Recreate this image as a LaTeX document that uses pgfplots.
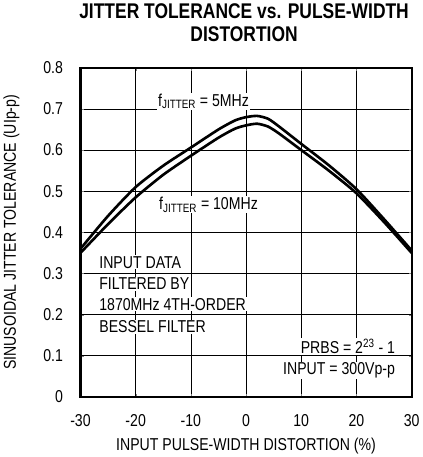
\documentclass[border=0pt]{standalone}
\usepackage{pgfplots}
\pgfplotsset{compat=1.18}
\usepackage{fontspec}
\setmainfont{Liberation Sans}[FakeStretch=0.82]

% jitter tolerance (UIp-p) vs. input pulse-width distortion (%)
\pgfplotstableread{
x     y
-30   0.360
-25   0.440
-20   0.510
-15   0.562
-10   0.606
-5    0.650
-2    0.672
0     0.680
2     0.683
4     0.676
6     0.657
10    0.615
15    0.563
20    0.505
25    0.432
30    0.356
}\fivemhz
\pgfplotstableread{
x     y
-30   0.350
-25   0.420
-20   0.485
-15   0.540
-10   0.586
-5    0.630
-2    0.652
0     0.660
2     0.664
4     0.657
6     0.640
10    0.600
15    0.550
20    0.495
25    0.425
30    0.350
}\tenmhz

\begin{document}
\begin{tikzpicture}
\begin{axis}[
    width=326bp, height=324bp, scale only axis,
    xmin=-30, xmax=30, ymin=0, ymax=0.8,
    xtick={-30,-20,-10,0,10,20,30},
    xticklabels={-30,-20,-10,0,10,20,30},
    ytick={0,0.1,0.2,0.3,0.4,0.5,0.6,0.7,0.8},
    yticklabels={0,0.1,0.2,0.3,0.4,0.5,0.6,0.7,0.8},
    tick align=inside, major tick length=3bp,
    grid=major,
    grid style={black, line width=0.6pt},
    axis line style={black, line width=2.2pt},
    tick label style={font=\fontsize{17}{19}\selectfont},
    xticklabel style={anchor=center, yshift=-23bp},
    yticklabel style={anchor=east, inner sep=0pt, xshift=-17bp},
    label style={font=\fontsize{17}{19}\selectfont},
    xlabel={INPUT PULSE-WIDTH DISTORTION (\%)},
    xlabel style={at={(axis description cs:0.5,-0.148)}, anchor=center},
    ylabel={SINUSOIDAL JITTER TOLERANCE (UIp-p)},
    ylabel style={at={(axis description cs:-0.2086,0.5)}, anchor=center},
    title={JITTER TOLERANCE vs. PULSE-WIDTH\\DISTORTION},
    title style={font=\bfseries\fontsize{21}{23}\selectfont, align=center,
      at={(axis description cs:0.494,1.119)}, anchor=center},
]
\addplot[black, line width=2.6pt, smooth, tension=0.4] table[x=x,y=y] {\fivemhz};
\addplot[black, line width=2.6pt, smooth, tension=0.4] table[x=x,y=y] {\tenmhz};

\begin{scope}[every node/.style={fill=white, inner sep=1pt, font=\fontsize{17}{19}\selectfont}]
\node at (axis cs:-7.7,0.718) {f\textsubscript{JITTER} = 5MHz};
\node at (axis cs:-6.8,0.467) {f\textsubscript{JITTER} = 10MHz};
\node[anchor=west] at (axis cs:-26.8,0.327) {INPUT DATA};
\node[anchor=west] at (axis cs:-26.8,0.275) {FILTERED BY};
\node[anchor=west] at (axis cs:-26.8,0.225) {1870MHz 4TH-ORDER};
\node[anchor=west] at (axis cs:-26.8,0.170) {BESSEL FILTER};
\node[anchor=east] at (axis cs:27.2,0.123) {PRBS = 2\textsuperscript{23} - 1};
\node[anchor=east] at (axis cs:27.2,0.064) {INPUT = 300Vp-p};
\end{scope}
\end{axis}
\end{tikzpicture}
\end{document}
